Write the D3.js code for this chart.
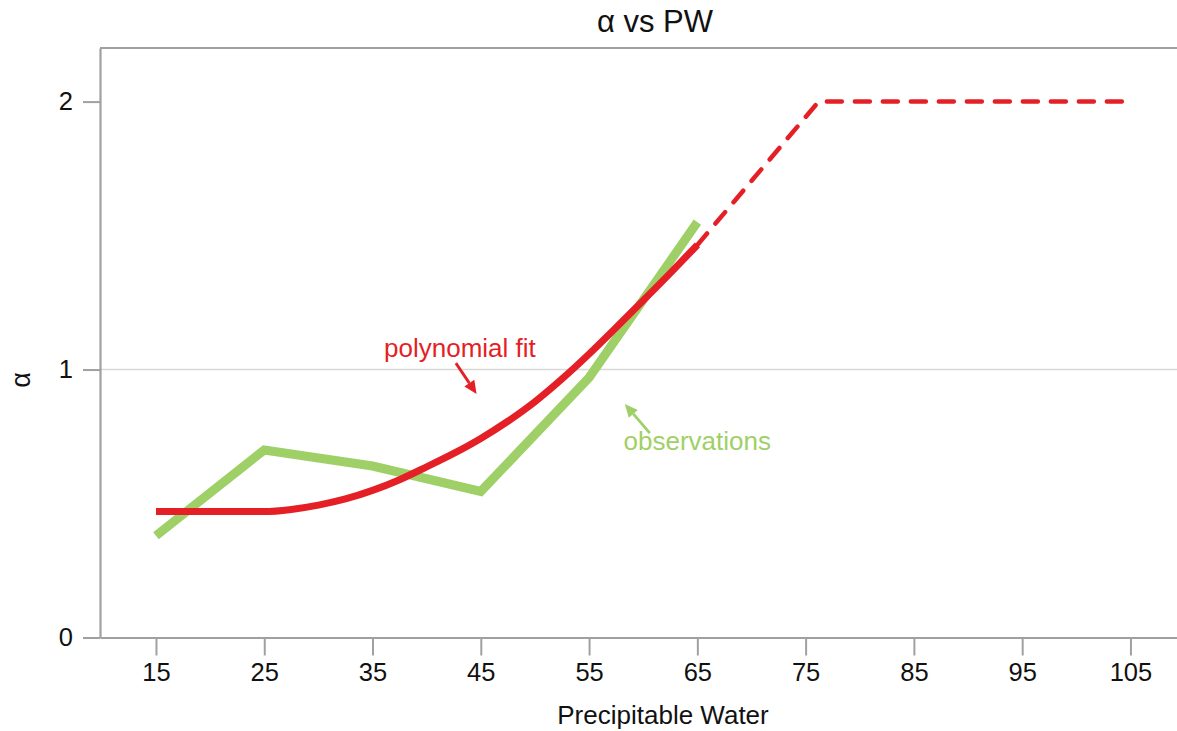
<!DOCTYPE html>
<html>
<head>
<meta charset="utf-8">
<script src="https://cdn.jsdelivr.net/npm/d3@7"></script>
<style>
  html, body { margin: 0; padding: 0; background: #fff; }
  svg { display: block; font-family: "Liberation Sans", Arial, Helvetica, sans-serif; }
</style>
</head>
<body>
<svg id="chart" width="1177" height="731"></svg>
<script>
// ---- data ----
const xTicks = [15, 25, 35, 45, 55, 65, 75, 85, 95, 105];
const yTicks = [0, 1, 2];
const obsPW = [15, 25, 35, 45, 55, 65];
const obsAlpha = [0.38, 0.70, 0.64, 0.545, 0.97, 1.55];
const fitPW = [15, 20, 25, 27.5, 30, 32.5, 35, 37.5, 40, 42.5, 45, 47.5, 50, 52.5, 55, 57.5, 60, 62.5, 65];
const fitAlpha = [0.47, 0.47, 0.47, 0.478, 0.494, 0.517, 0.549, 0.589, 0.637, 0.687, 0.743, 0.807, 0.88, 0.965, 1.058, 1.157, 1.258, 1.36, 1.465];
const extPW = [65, 76.2, 105];
const extAlpha = [1.465, 2.0, 2.0];

// ---- layout ----
const svg = d3.select("#chart");
const mLeft = 100, mRight = 1177, mTop = 48, mBottom = 637.5;
const x = d3.scaleLinear().domain([9.83, 109.3]).range([mLeft, mRight]);
const y = d3.scaleLinear().domain([0, 2.2]).range([mBottom, mTop]);

const red = "#e41f26", green = "#9fd067", axisGray = "#a0a0a2";
const font = "Liberation Sans, Arial, sans-serif";

// gridline at 1
svg.append("line")
  .attr("x1", mLeft).attr("x2", mRight)
  .attr("y1", y(1)).attr("y2", y(1))
  .attr("stroke", "#d8d8d8").attr("stroke-width", 1.5);

// top frame
svg.append("line")
  .attr("x1", mLeft).attr("x2", mRight)
  .attr("y1", mTop).attr("y2", mTop)
  .attr("stroke", axisGray).attr("stroke-width", 2);

// axes
const xAxis = d3.axisBottom(x).tickValues(xTicks).tickFormat(d3.format("d")).tickSize(18).tickPadding(7).tickSizeOuter(0);
const gx = svg.append("g").attr("transform", `translate(0,${mBottom})`).call(xAxis);
gx.select(".domain").attr("stroke", axisGray).attr("stroke-width", 2.2);
gx.selectAll(".tick line").attr("stroke", axisGray).attr("stroke-width", 2);
gx.selectAll(".tick text").attr("font-size", 25.5).attr("fill", "#111").attr("font-family", font);

const yAxis = d3.axisLeft(y).tickValues(yTicks).tickFormat(d3.format("d")).tickSize(17).tickPadding(10).tickSizeOuter(0);
const gy = svg.append("g").attr("transform", `translate(${mLeft},0)`).call(yAxis);
gy.select(".domain").attr("stroke", axisGray).attr("stroke-width", 2.2);
gy.selectAll(".tick line").attr("stroke", axisGray).attr("stroke-width", 2);
gy.selectAll(".tick text").attr("font-size", 25.5).attr("fill", "#111").attr("font-family", font);

// lines
const line = d3.line().x(d => x(d[0])).y(d => y(d[1]));
const obs = obsPW.map((p, i) => [p, obsAlpha[i]]);
const fit = fitPW.map((p, i) => [p, fitAlpha[i]]);
const ext = extPW.map((p, i) => [p, extAlpha[i]]);

svg.append("path").datum(obs)
  .attr("d", line).attr("fill", "none")
  .attr("stroke", green).attr("stroke-width", 9).attr("stroke-linejoin", "miter");

svg.append("path").datum(ext)
  .attr("d", line).attr("fill", "none")
  .attr("stroke", red).attr("stroke-width", 4.5).attr("stroke-dasharray", "15,13")
  .attr("stroke-linecap", "round");

svg.append("path").datum(fit)
  .attr("d", d3.line().x(d => x(d[0])).y(d => y(d[1])).curve(d3.curveMonotoneX)).attr("fill", "none")
  .attr("stroke", red).attr("stroke-width", 7);

// annotations (data coordinates)
function arrow(x0, y0, x1, y1, color) {
  const X0 = x(x0), Y0 = y(y0), X1 = x(x1), Y1 = y(y1);
  const ang = Math.atan2(Y1 - Y0, X1 - X0);
  const hl = 13, hw = 6;
  const bx = X1 - hl * Math.cos(ang), by = Y1 - hl * Math.sin(ang);
  svg.append("line").attr("x1", X0).attr("y1", Y0).attr("x2", bx).attr("y2", by)
    .attr("stroke", color).attr("stroke-width", 2.8);
  const p1 = [bx + hw * Math.sin(ang), by - hw * Math.cos(ang)];
  const p2 = [bx - hw * Math.sin(ang), by + hw * Math.cos(ang)];
  svg.append("path").attr("d", `M${X1},${Y1}L${p1[0]},${p1[1]}L${p2[0]},${p2[1]}Z`).attr("fill", color);
}
svg.append("text").attr("x", x(43.07)).attr("y", y(1.047))
  .attr("text-anchor", "middle").attr("font-size", 26).attr("fill", red).text("polynomial fit");
arrow(42.7, 1.024, 44.61, 0.909, red);

svg.append("text").attr("x", x(64.99)).attr("y", y(0.70))
  .attr("text-anchor", "middle").attr("font-size", 26).attr("fill", green).text("observations");
arrow(60.61, 0.763, 58.3, 0.871, green);

// titles
svg.append("text").attr("x", 655).attr("y", 32).attr("text-anchor", "middle")
  .attr("font-size", 31).attr("fill", "#111").text("α vs PW");
svg.append("text").attr("x", 663).attr("y", 724).attr("text-anchor", "middle")
  .attr("font-size", 26).attr("fill", "#111").text("Precipitable Water");
svg.append("text").attr("transform", `translate(30,380) rotate(-90)`).attr("text-anchor", "middle")
  .attr("font-size", 27).attr("fill", "#111").text("α");
</script>
</body>
</html>
